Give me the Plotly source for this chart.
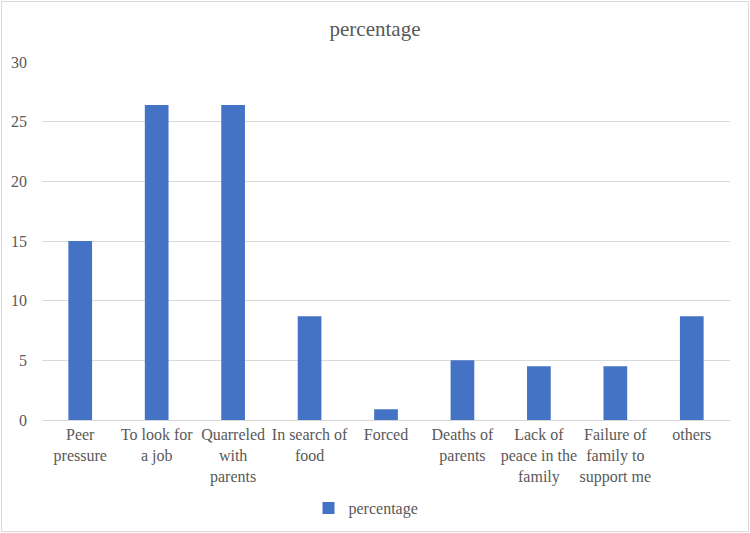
import plotly.graph_objects as go

categories = ["Peer<br>pressure", "To look for<br>a job", "Quarreled<br>with<br>parents",
              "In search of<br>food", "Forced", "Deaths of<br>parents",
              "Lack of<br>peace in the<br>family", "Failure of<br>family to<br>support me", "others"]
percentage = [15.0, 26.4, 26.4, 8.7, 0.9, 5.0, 4.5, 4.5, 8.7]
y_ticks = [0, 5, 10, 15, 20, 25, 30]

W, H = 750, 533
L, R, T, B = 42, 20, 62, 113
pw, ph = W - L - R, H - T - B

def px_x(x):
    return (x - L) / pw

def px_y(y):
    return (H - B - y) / ph

FONT = "Liberation Serif"
TXT = "#595959"
FS = 16

fig = go.Figure(go.Bar(
    x=categories, y=percentage, name="percentage",
    marker=dict(color="#4472C4", line=dict(width=0)),
    width=0.31, showlegend=True,
))

fig.update_layout(
    width=W, height=H,
    margin=dict(l=L, r=R, t=T, b=B, autoexpand=False),
    paper_bgcolor="white", plot_bgcolor="white",
    font=dict(family=FONT, color=TXT, size=FS),
    title=dict(text="percentage", x=0.5, xanchor="center", y=1 - 29 / H, yanchor="middle",
               font=dict(size=21, color=TXT, family=FONT)),
    xaxis=dict(showgrid=False, showline=False, ticks="", tickfont=dict(size=FS, color=TXT, family=FONT),
               tickangle=0, fixedrange=True, ticklabelstandoff=3),
    yaxis=dict(range=[0, 30], tickvals=y_ticks, showgrid=True, gridcolor="#d9d9d9", gridwidth=1,
               zeroline=True, zerolinecolor="#d9d9d9", zerolinewidth=1, showline=False,
               ticks="", ticklabelstandoff=14, tickfont=dict(size=FS, color=TXT, family=FONT)),
    legend=dict(orientation="h", x=px_x(375 - 9), xanchor="center", y=px_y(508), yanchor="middle",
                font=dict(size=FS, color=TXT, family=FONT), itemwidth=30),
    bargap=0.69,
    shapes=[dict(type="rect", xref="paper", yref="paper",
                 x0=px_x(1.5), x1=px_x(748.5), y0=px_y(531.5), y1=px_y(1.5),
                 line=dict(color="#d9d9d9", width=1), layer="below")],
)

fig.write_html("out.html", config={"displayModeBar": False},
               post_script="document.body.style.margin='0';")
